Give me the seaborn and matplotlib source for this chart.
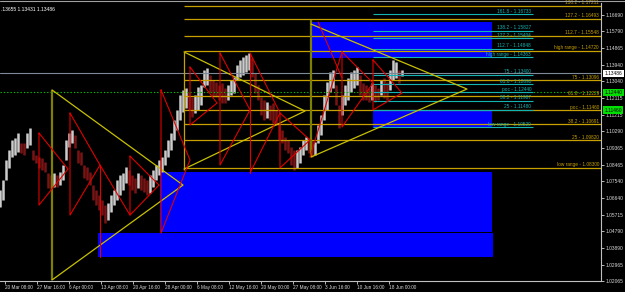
import numpy as np
import matplotlib
matplotlib.use("Agg")
import matplotlib.pyplot as plt
import matplotlib.transforms as mtransforms
from matplotlib.patches import Rectangle
import seaborn as sns

# ---------------- data ----------------
bar_hi = [1.0707, 1.0762, 1.0872, 1.0927, 1.0982, 1.0993, 1.1020, 1.0965, 1.0965, 1.1020,
          1.1048, 1.0927, 1.0899, 1.0888, 1.0883, 1.0861, 1.0800, 1.0789, 1.0800, 1.0789,
          1.0806, 1.0844, 1.0982, 1.1020, 1.1037, 1.1009, 1.0927, 1.0916, 1.0844, 1.0833,
          1.0806, 1.0734, 1.0707, 1.0679, 1.0652, 1.0624, 1.0635, 1.0679, 1.0707, 1.0762,
          1.0789, 1.0800, 1.0833, 1.0817, 1.0789, 1.0773, 1.0800, 1.0789, 1.0773, 1.0762,
          1.0789, 1.0817, 1.0844, 1.0872, 1.0888, 1.0927, 1.0982, 1.1020, 1.1092, 1.1147,
          1.1229, 1.1257, 1.1268, 1.1246, 1.1218, 1.1229, 1.1273, 1.1284, 1.1367, 1.1378,
          1.1339, 1.1312, 1.1301, 1.1284, 1.1295, 1.1268, 1.1284, 1.1312, 1.1328, 1.1394,
          1.1422, 1.1438, 1.1449, 1.1460, 1.1433, 1.1350, 1.1284, 1.1218, 1.1202, 1.1191,
          1.1174, 1.1185, 1.1147, 1.1075, 1.1037, 1.0998, 1.0982, 1.0943, 1.0927, 1.0927,
          1.0943, 1.0982, 1.0998, 1.0993, 1.0982, 1.0971, 1.1064, 1.1119, 1.1229, 1.1301,
          1.1356, 1.1367, 1.1284, 1.1174, 1.1229, 1.1284, 1.1323, 1.1356, 1.1367, 1.1383,
          1.1339, 1.1295, 1.1284, 1.1268, 1.1295, 1.1284, 1.1268, 1.1312, 1.1323, 1.1301,
          1.1367, 1.1422, 1.1411, 1.1367, 1.1367]
bar_lo = [1.0613, 1.0652, 1.0762, 1.0828, 1.0888, 1.0899, 1.0916, 1.0910, 1.0899, 1.0938,
          1.0954, 1.0872, 1.0855, 1.0828, 1.0817, 1.0806, 1.0718, 1.0707, 1.0723, 1.0723,
          1.0734, 1.0762, 1.0872, 1.0943, 1.0965, 1.0938, 1.0855, 1.0844, 1.0773, 1.0762,
          1.0734, 1.0652, 1.0624, 1.0597, 1.0569, 1.0525, 1.0542, 1.0586, 1.0624, 1.0652,
          1.0679, 1.0707, 1.0745, 1.0734, 1.0707, 1.0690, 1.0718, 1.0707, 1.0696, 1.0679,
          1.0690, 1.0723, 1.0762, 1.0789, 1.0806, 1.0844, 1.0888, 1.0927, 1.0982, 1.1037,
          1.1092, 1.1136, 1.1158, 1.1147, 1.1108, 1.1130, 1.1147, 1.1174, 1.1273, 1.1284,
          1.1246, 1.1218, 1.1218, 1.1202, 1.1185, 1.1185, 1.1202, 1.1229, 1.1240, 1.1312,
          1.1328, 1.1339, 1.1356, 1.1367, 1.1328, 1.1240, 1.1202, 1.1119, 1.1092, 1.1103,
          1.1092, 1.1075, 1.1064, 1.0982, 1.0965, 1.0927, 1.0910, 1.0844, 1.0817, 1.0828,
          1.0855, 1.0899, 1.0927, 1.0910, 1.0888, 1.0899, 1.0965, 1.1009, 1.1092, 1.1147,
          1.1246, 1.1268, 1.1174, 1.1048, 1.1119, 1.1174, 1.1202, 1.1246, 1.1268, 1.1284,
          1.1229, 1.1202, 1.1202, 1.1191, 1.1202, 1.1191, 1.1202, 1.1229, 1.1213, 1.1202,
          1.1257, 1.1312, 1.1323, 1.1295, 1.1334]

x_tick_labels = ["20 Mar 08:00", "27 Mar 16:00", "6 Apr 00:00", "13 Apr 08:00", "20 Apr 16:00",
                 "28 Apr 00:00", "6 May 08:00", "12 May 16:00", "20 May 00:00", "27 May 08:00",
                 "3 Jun 16:00", "10 Jun 16:00", "18 Jun 00:00"]
y_tick_values = [1.16690, 1.15790, 1.14865, 1.13940, 1.13040, 1.12115, 1.11215, 1.10290,
                 1.09365, 1.08465, 1.07540, 1.06640, 1.05715, 1.04790, 1.03890, 1.02965, 1.02065]

fib1_names = ["138.2", "127.2", "112.7", "high range", "75", "61.8", "poc", "38.2", "25", "low range"]
fib1_values = [1.17211, 1.16493, 1.15548, 1.14720, 1.13096, 1.12229, 1.11460, 1.10691, 1.09820, 1.08300]
fib2_names = ["161.8", "138.2", "127.2", "112.7", "high range", "75", "61.8", "poc", "38.2", "25", "low range"]
fib2_values = [1.16733, 1.15827, 1.15404, 1.14848, 1.14363, 1.13400, 1.12893, 1.12440, 1.11987, 1.11480, 1.10520]

bid_price = 1.13486
poc_green = [1.12440, 1.11460]
header_text = ".13655 1.13431 1.13486"

# zones (blue rectangles): left bar, right bar, top price, bottom price
zone_left = [311, 373, 160, 98]
zone_right = [492, 492, 492, 493]
zone_top = [1.1631, 1.1146, 1.0808, 1.0470]
zone_bottom = [1.1433, 1.1046, 1.0475, 1.0338]

# vertical markers
vert_x = [52, 184, 311]
vert_top = [1.1257, 1.1466, 1.1642]
vert_bottom = [1.0212, 1.0817, 1.0888]

# yellow triangles (bar, price)
tri_yellow = [
    [(52, 1.1257), (183, 1.0734), (52, 1.0212)],
    [(184, 1.1466), (305, 1.1141), (184, 1.0822)],
    [(311, 1.1619), (467, 1.1262), (311, 1.0888)],
]
# red zigzag triangles / lines
red_lines = [
    [(39, 1.1020), (68, 1.0822), (39, 1.0624), (39, 1.1020)],
    [(70, 1.1130), (100, 1.0844), (70, 1.0569), (70, 1.1130)],
    [(100, 1.0844), (100, 1.0338)],
    [(100, 1.0844), (130, 1.0569)],
    [(130, 1.0893), (159, 1.0734), (130, 1.0569), (130, 1.0893)],
    [(161, 1.1257), (190, 1.0872), (161, 1.0470), (161, 1.1257)],
    [(190, 1.1383), (217, 1.1185), (190, 1.1064), (190, 1.1383)],
    [(220, 1.1460), (250, 1.1147), (220, 1.0844), (220, 1.1460)],
    [(250, 1.1460), (250, 1.0800)],
    [(250, 1.1460), (280, 1.1130), (250, 1.0800)],
    [(280, 1.1130), (310, 1.0982), (280, 1.0828), (280, 1.1130)],
    [(310, 1.0888), (342, 1.1466)],
    [(318, 1.1631), (342, 1.1323)],
    [(342, 1.1466), (373, 1.1295), (342, 1.1053), (342, 1.1466)],
    [(373, 1.1422), (402, 1.1240), (373, 1.1147), (373, 1.1422)],
]

# ---------------- style ----------------
W, H = 625, 292
sns.set_theme(style="dark", rc={"axes.facecolor": "black", "figure.facecolor": "black",
                                "axes.edgecolor": "#c0c0c0", "axes.grid": False})
plt.rcParams['font.family'] = ['Liberation Sans', 'DejaVu Sans']

GOLD = "#c8a000"
CYAN = "#14b4b4"
YEL = "#c8c000"
OLIVE = "#808000"
RED = "#e00000"
BLUE = "#0000ff"

fig = plt.figure(figsize=(W / 100, H / 100), dpi=100, facecolor="black")
ax = fig.add_axes([0, 11 / H, 601 / W, 278 / H])
ax.set_facecolor("black")
ax.set_xlim(0, 601)
ax.set_ylim(1.02065, 1.1735)

# zones
for l, r, t, b in zip(zone_left, zone_right, zone_top, zone_bottom):
    ax.add_patch(Rectangle((l, b), r - l, t - b, facecolor=BLUE, edgecolor="none", zorder=1))

# candles
bars = np.arange(0, 3 * len(bar_hi), 3)
hi = np.array(bar_hi)
lo = np.array(bar_lo)
mid = (hi + lo) / 2
prev = np.concatenate([[mid[0]], mid[:-1]])
cols = np.where(mid >= prev, "#cccccc", "#7a1414")
ax.vlines(bars, lo, hi, colors=cols, linewidth=1.8, zorder=2)

# full-width lines
ax.axhline(bid_price, color="#7f8a99", lw=0.8, zorder=2)
ax.axhline(poc_green[0], color="#00c000", lw=0.8, ls=(0, (1.2, 1.8)), zorder=2)

# fib set 1 (gold)
for n, v in zip(fib1_names, fib1_values):
    ax.hlines(v, 184, 601, color=GOLD, lw=0.9, zorder=3)
    ax.text(599, v + 0.0002, f"{n} - {v:.5f}", color=GOLD, fontsize=3.4,
            ha="right", va="bottom", zorder=4)
# fib set 2 (cyan)
for n, v in zip(fib2_names, fib2_values):
    ax.hlines(v, 373, 533, color=CYAN, lw=0.8, zorder=3)
    ax.text(531, v + 0.0002, f"{n} - {v:.5f}", color=CYAN, fontsize=3.4,
            ha="right", va="bottom", zorder=4)

# verticals
for xv, t, b, c in zip(vert_x, vert_top, vert_bottom, [OLIVE, GOLD, OLIVE]):
    ax.vlines(xv, b, t, color=c, lw=1.6 if c == OLIVE else 0.9, zorder=3)

def poly(points, color, lw):
    xs = [p[0] for p in points]
    ys = [p[1] for p in points]
    sns.lineplot(x=xs, y=ys, sort=False, estimator=None, ax=ax, color=color,
                 lw=lw, zorder=3, legend=False)

for tri in tri_yellow:
    poly(tri, YEL, 0.9)
for seg in red_lines:
    poly(seg, RED, 0.8)

# axes decorations
ax.set_xlabel("")
ax.set_ylabel("")
for s in ["left", "top"]:
    ax.spines[s].set_visible(False)
for s in ["right", "bottom"]:
    ax.spines[s].set_color("#c0c0c0")
    ax.spines[s].set_linewidth(0.8)

ax.set_xticks([5 + 32 * i for i in range(len(x_tick_labels))])
ax.set_xticklabels(x_tick_labels)
for lab in ax.get_xticklabels():
    lab.set_ha("left")
ax.yaxis.tick_right()
ax.set_yticks(y_tick_values)
ax.set_yticklabels([f"{v:.5f}" for v in y_tick_values])
ax.tick_params(axis="x", colors="#d8d8d8", labelsize=3.4, length=2, width=0.6, pad=1,
               direction="out", bottom=True)
ax.tick_params(axis="y", colors="#d8d8d8", labelsize=3.5, length=2, width=0.6, pad=1,
               direction="out", right=True, left=False)

trans = mtransforms.blended_transform_factory(ax.transAxes, ax.transData)
ax.text(1.006, bid_price, f"{bid_price:.5f}", transform=trans, fontsize=3.5, color="black",
        va="center", ha="left", zorder=6,
        bbox=dict(boxstyle="square,pad=0.25", fc="white", ec="none"))
for pg in poc_green:
    ax.text(1.006, pg, f"{pg:.5f}", transform=trans, fontsize=3.5, color="black",
            va="center", ha="left", zorder=6,
            bbox=dict(boxstyle="square,pad=0.25", fc="#00e000", ec="none"))

fig.text(0.002, 1 - 12 / H, header_text, color="white", fontsize=3.6, ha="left", va="bottom")
fig.add_artist(plt.Line2D([0, 1], [1 - 1 / H, 1 - 1 / H], color="#a0a0a0", lw=0.8,
                          transform=fig.transFigure))

fig.savefig("out.png", dpi=100, facecolor="black")
